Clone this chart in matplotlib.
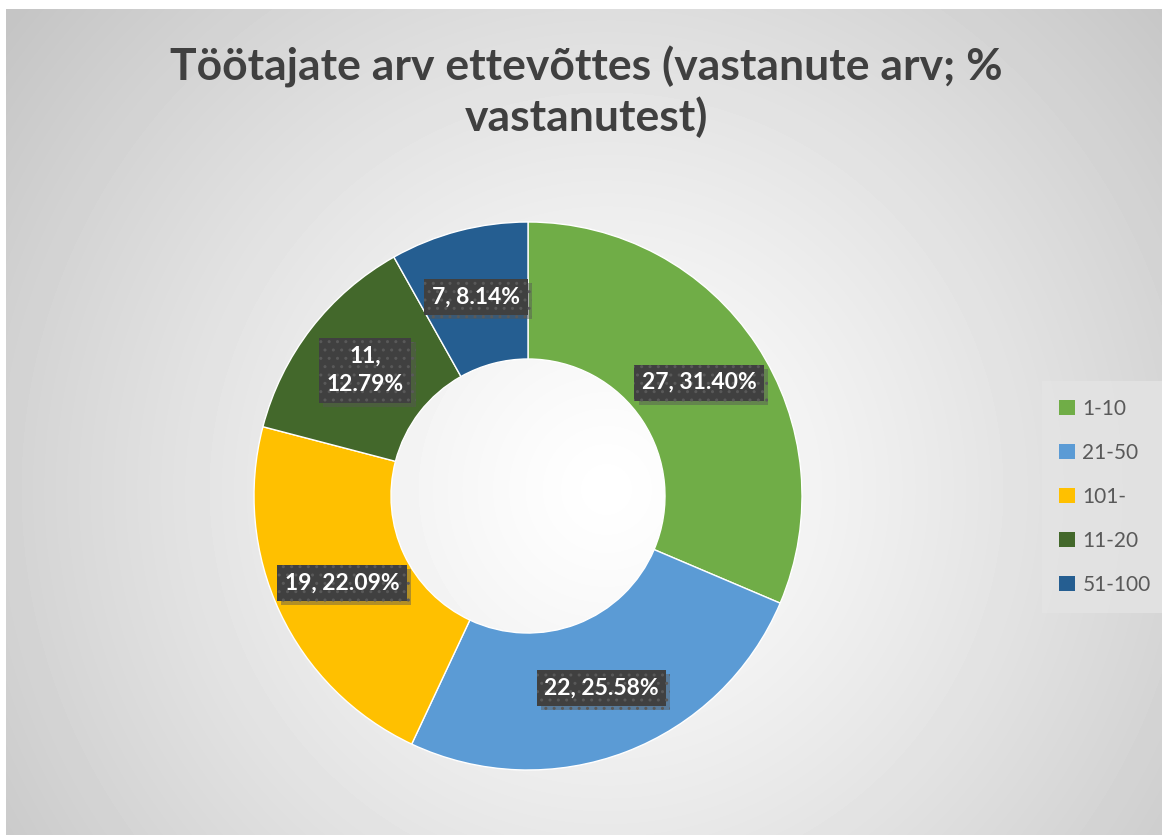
import numpy as np
import matplotlib
matplotlib.use("Agg")
import matplotlib.pyplot as plt
import matplotlib.patheffects as pe

categories = ["1-10", "21-50", "101-", "11-20", "51-100"]
counts = [27, 22, 19, 11, 7]
pcts = ["31.40%", "25.58%", "22.09%", "12.79%", "8.14%"]
label_texts = ["27, 31.40%", "22, 25.58%", "19, 22.09%", "11,\n12.79%", "7, 8.14%"]
colors = ["#70AD47", "#5B9BD5", "#FFC000", "#43682B", "#255E91"]
title = "Töötajate arv ettevõttes (vastanute arv; %\nvastanutest)"

W, H = 1162, 835
fig = plt.figure(figsize=(W / 100, H / 100), dpi=100)
fig.patch.set_facecolor("white")

# radial gray background like the Excel chart area
bg = fig.add_axes([6 / W, 0, 1 - 6 / W, (H - 9) / H])
yy, xx = np.mgrid[0:H - 9, 0:W - 6]
d = np.hypot(xx - 600, yy - 480) / 760
d = np.clip(d, 0, 1)
shade = 1.0 - 0.23 * d ** 1.2
bg.imshow(shade, cmap="gray", vmin=0, vmax=1, aspect="auto",
          extent=[0, 1, 0, 1], origin="upper")
bg.axis("off")

cx, cy, r = 528, 496, 274
ax = fig.add_axes([(cx - r) / W, (H - cy - r) / H, 2 * r / W, 2 * r / H])
wedges, _ = ax.pie(counts, colors=colors, startangle=90, counterclock=False,
                   radius=1.0, wedgeprops=dict(width=0.5, edgecolor="white", linewidth=1))
ax.set_xlim(-1, 1)
ax.set_ylim(-1, 1)
ax.set_aspect("equal")
ax.axis("off")

total = sum(counts)
cum = 0
for n, txt in zip(counts, label_texts):
    mid = (cum + n / 2) / total * 2 * np.pi
    cum += n
    x, y = 0.75 * np.sin(mid), 0.75 * np.cos(mid)
    t = ax.text(x, y, txt, ha="center", va="center", color="white",
                fontsize=16.5, fontweight="bold", family="Lato", linespacing=1.45,
                bbox=dict(boxstyle="square,pad=0.33", fc="#404040", ec="#595959",
                          lw=0, hatch=".."))
    t.get_bbox_patch().set_path_effects([
        pe.SimplePatchShadow(offset=(3, -3), shadow_rgbFace="#555555", alpha=0.45),
        pe.Normal()])

fig.text(0.505, 0.945, title, ha="center", va="top", fontsize=32,
         fontweight="bold", family="Lato", color="#404040", linespacing=1.25)

leg = fig.legend(wedges, categories, loc="center left",
                 bbox_to_anchor=(1048 / W, (H - 497) / H), frameon=True,
                 labelspacing=1.15, handlelength=0.75,
                 handleheight=0.75, handletextpad=0.35, borderpad=0.55,
                 borderaxespad=0,
                 prop={"family": "Lato", "size": 15})
leg.get_frame().set_facecolor("#e4e4e4")
leg.get_frame().set_edgecolor("none")
leg.get_frame().set_boxstyle("square")
for t in leg.get_texts():
    t.set_color("#595959")
for h in leg.legend_handles:
    h.set_edgecolor("none")

fig.savefig("out.png", dpi=100)
